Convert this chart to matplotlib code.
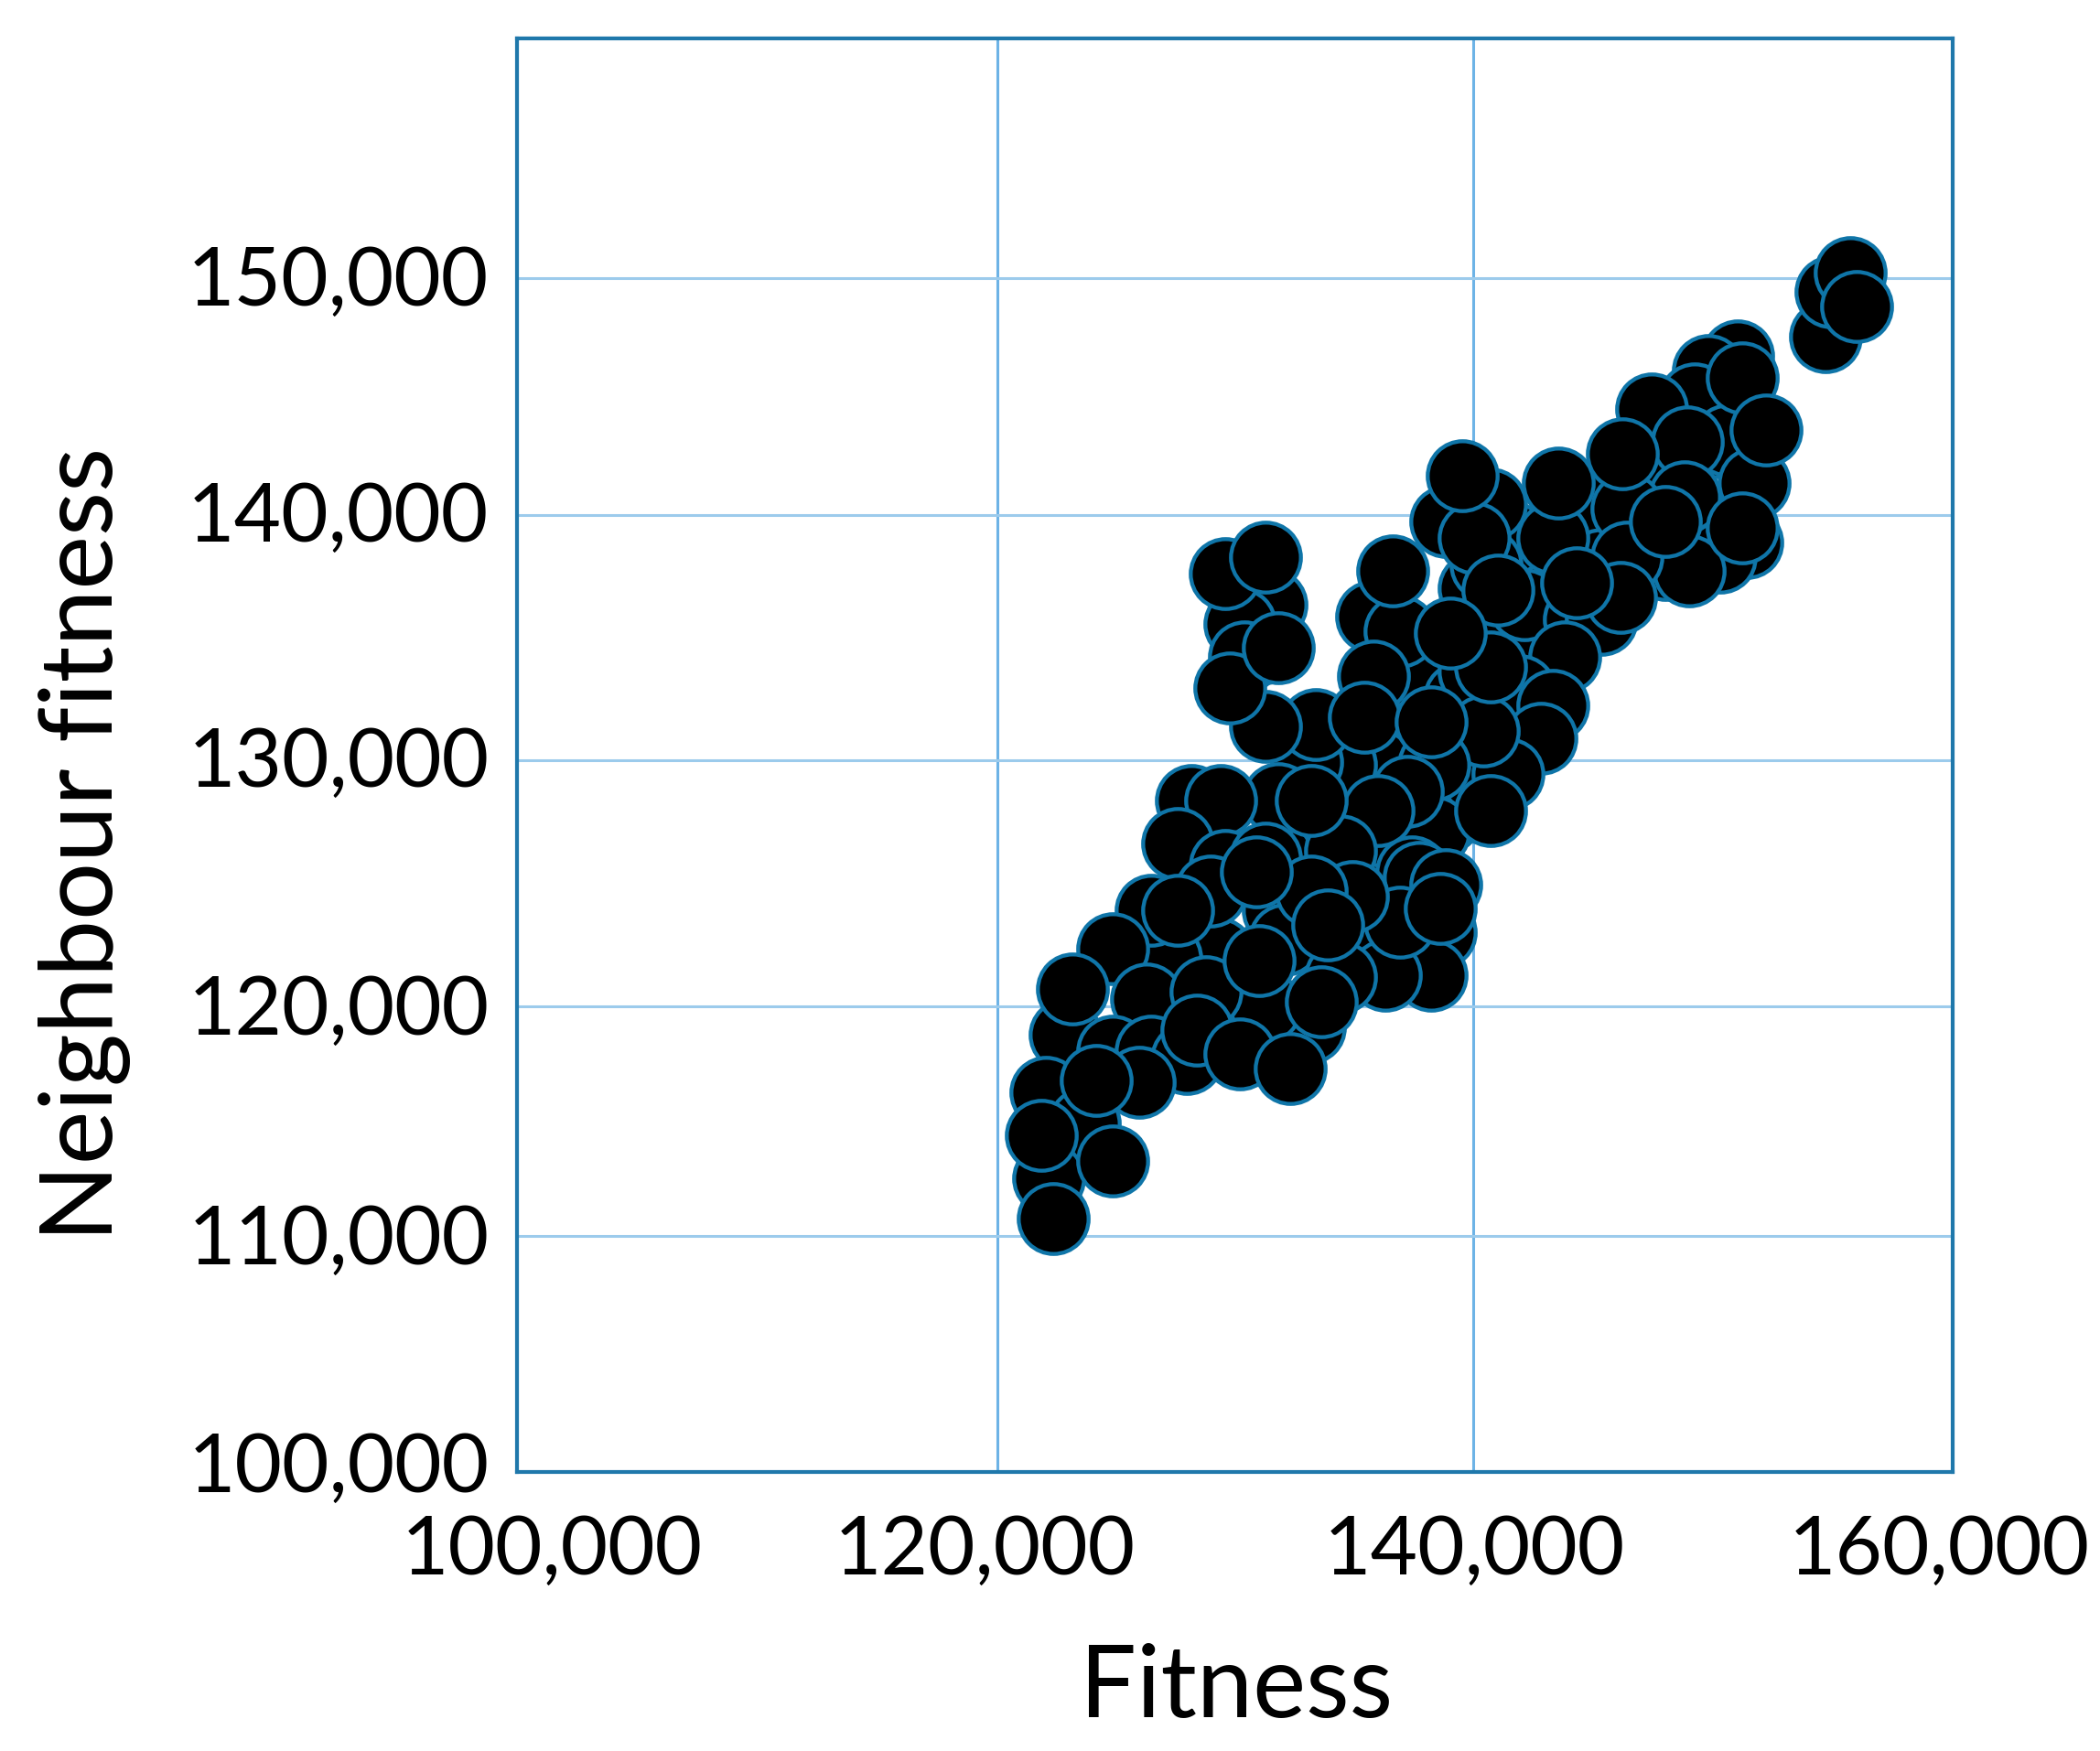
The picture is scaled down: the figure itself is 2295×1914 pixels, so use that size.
import matplotlib
matplotlib.use("Agg")
import matplotlib.pyplot as plt
import matplotlib.transforms as mtrans

plt.rcParams['font.family'] = ['Lato', 'DejaVu Sans']

# values, back to front
fitness = [141600, 140000, 137700, 139400, 137200, 134400, 136000, 134400, 140000, 141600, 141600, 139200,
           138800, 131800, 136000, 137700, 138300, 135500, 131800, 142100, 147800, 149500, 148000, 145100,
           145000, 144400, 145300, 150000, 128800, 135500, 132100,
           154700, 154900, 155700, 151000, 149800, 149200, 147400, 150600, 148900, 151700, 140700, 138800,
           148800, 146400, 151400, 150300, 149000, 146400, 145300, 146100, 143300, 140500, 140000, 135700,
           136900, 143800, 141900, 143300, 142800, 141400, 140400, 138300, 135800, 137200, 136000, 133000,
           133400, 131300, 131800, 131300, 131500, 130200, 129600, 130400, 128200, 129400, 127600, 129600,
           131300, 134400, 137400, 137700, 138800, 138600, 138200, 136300, 136900, 134900, 133200,
           134400, 129300, 127100, 126500, 129000, 124900, 126300, 122900, 124900, 126500, 128000, 133100,
           131300, 122100, 123700, 122200, 124900, 128800,
           # front row
           151200, 152200, 146200, 148000, 151200, 143500, 139500, 144300, 141000, 136600, 140700, 139000, 140700,
           135400, 138200, 133200, 129800, 131800, 131300, 130900, 127600, 138600, 131000, 123200, 133600, 133900,
           128400, 130200, 132300, 126000, 124200, 121900, 122400, 156000]
neighbour = [135200, 137000, 133000, 132400, 130700, 127900, 129600, 129600, 133500, 137500, 139100, 129100,
             127400, 125700, 125700, 127400, 126800, 124000, 123500, 136300, 142200, 139200, 138000, 139100,
             140300, 135700, 138000, 143100, 126000, 122300, 122300,
             147500, 149400, 150200, 146700, 146100, 144900, 144500, 143200, 143100, 141400, 140500, 139800,
             140800, 140300, 138900, 138300, 137700, 138300, 135700, 136600, 139100, 138000, 139100, 135800,
             135200, 134100, 132700, 132100, 130700, 129200, 131000, 129600, 133300, 128500, 127700, 129700,
             131300, 131200, 128200, 134500, 136300, 135500, 137600, 134100, 128100, 128100, 126300, 125400,
             125700, 126000, 125100, 124900, 124600, 122600, 120800, 120800, 123000, 124100, 124300,
             120700, 121700, 121500, 123500, 124300, 121900, 119800, 118300, 117600, 117600, 117300, 118600,
             119500, 115900, 114600, 112300, 113000, 120100,
             # front row
             145800, 143600, 142600, 139800, 139500, 141400, 141700, 137200, 136900, 137700, 133700, 135100, 127700,
             131600, 131400, 128100, 132800, 134500, 138300, 125100, 123500, 123600, 121400, 120200, 119700, 122900,
             118500, 117500, 116900, 116300, 116400, 114100, 110600, 148800]

# the gridlines in the picture are not quite evenly spaced
x_ticks = [100000, 120090, 139960, 160000]
x_labels = ['100,000', '120,000', '140,000', '160,000']
y_ticks = [100000, 109860, 119490, 129790, 140040, 149950]
y_labels = ['100,000', '110,000', '120,000', '130,000', '140,000', '150,000']
# label offsets in pixels, the labels do not sit exactly on their ticks
x_shift = [38, -14, 1, -15]
y_shift = [11, 3, 2, 4, 4, 4]

fig = plt.figure(figsize=(22.95, 19.14), dpi=100)
ax = fig.add_axes([565 / 2295, 305 / 1914, 1569 / 2295, 1567 / 1914])

ax.plot(fitness, neighbour, 'o', ms=55, mfc='black', mec='#0f75a8', mew=3.1, zorder=3)

ax.set_xlim(100000, 160000)
ax.set_ylim(100000, 160000)
ax.set_xticks(x_ticks)
ax.set_yticks(y_ticks)
ax.set_xticklabels(x_labels)
ax.set_yticklabels(y_labels)
ax.tick_params(length=0, labelsize=64, pad=33)
ax.tick_params(axis='y', pad=22)
ax.xaxis.grid(True, color='#6db3e6', lw=2.2)
ax.yaxis.grid(True, color='#9ccbec', lw=2.2)
ax.set_axisbelow(True)

for lab, dx in zip(ax.get_xticklabels(), x_shift):
    lab.set_transform(lab.get_transform() + mtrans.Affine2D().translate(dx, 0))
for lab, dy in zip(ax.get_yticklabels(), y_shift):
    lab.set_transform(lab.get_transform() + mtrans.Affine2D().translate(0, dy))

for s in ax.spines.values():
    s.set_color('#1f78ab')
    s.set_linewidth(3)

fig.text(1351 / 2295, 1 - 1846 / 1914, 'Fitness', fontsize=79, ha='center', va='center')
fig.text(93 / 2295, 1 - 923 / 1914, 'Neighbour fitness', fontsize=80, rotation=90, ha='center', va='center')

fig.savefig('out.png', dpi=100)
